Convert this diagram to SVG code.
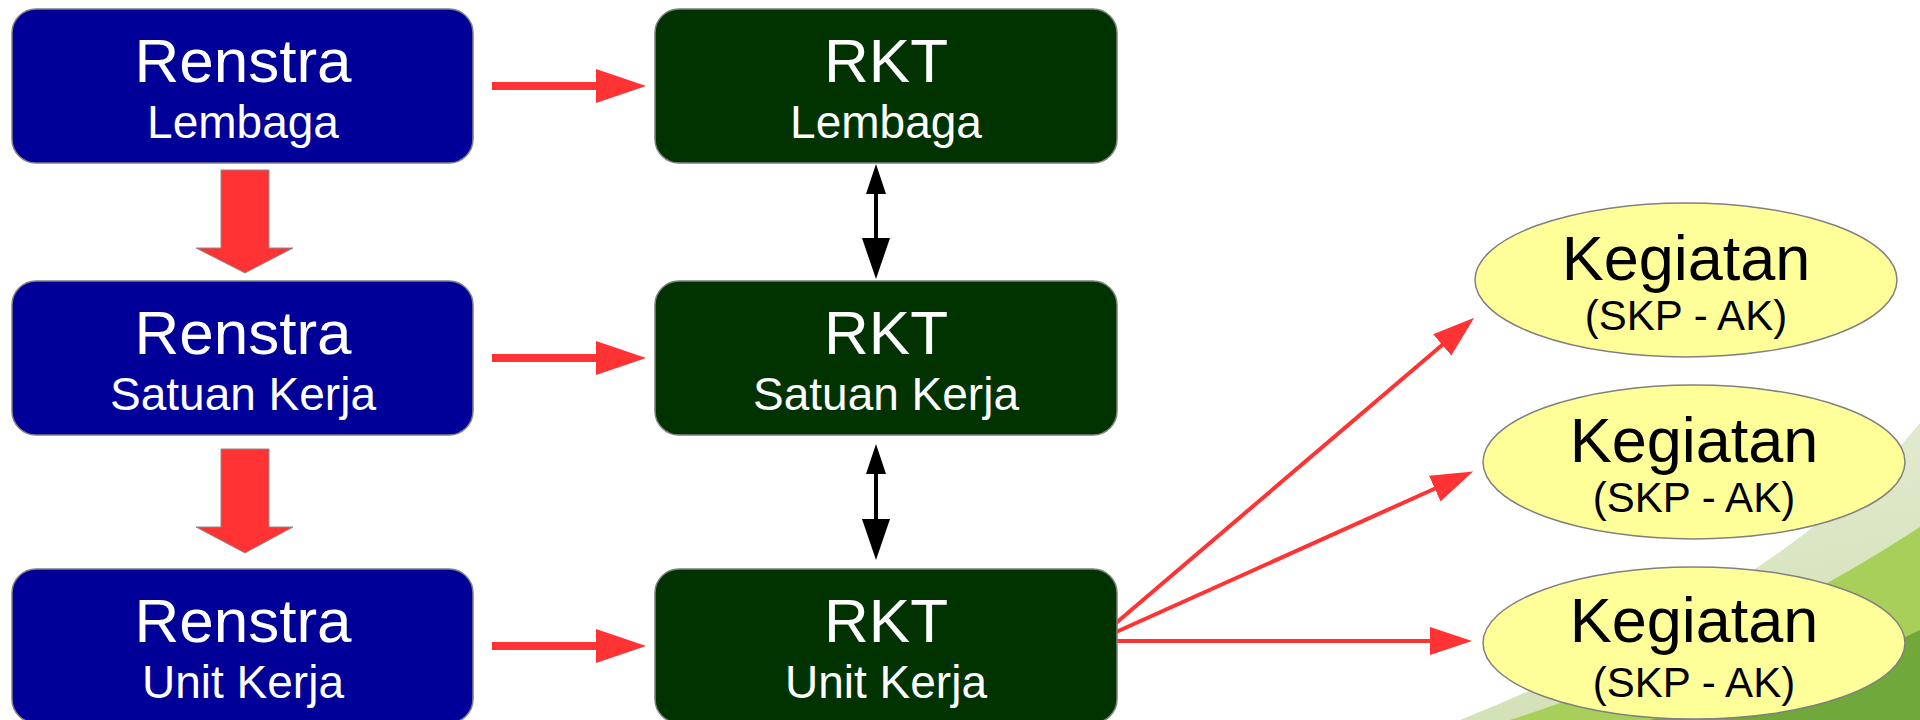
<svg xmlns="http://www.w3.org/2000/svg" width="1920" height="720" viewBox="0 0 1920 720">
<style>
.renstra{fill:#000099;stroke:#808080;stroke-width:1.5}
.rkt{fill:#003300;stroke:#808080;stroke-width:1.5}
.keg{fill:#FFFF99;stroke:#808080;stroke-width:1.5}
.t1{font-family:"Liberation Sans",Arial,sans-serif;font-size:62px;fill:#FFFFFF;text-anchor:middle}
.t2{font-family:"Liberation Sans",Arial,sans-serif;font-size:46px;fill:#FFFFFF;text-anchor:middle}
.k1{font-family:"Liberation Sans",Arial,sans-serif;font-size:63px;fill:#000000;text-anchor:middle}
.k2{font-family:"Liberation Sans",Arial,sans-serif;font-size:42px;fill:#000000;text-anchor:middle}
.block{fill:#FF3333}
.down{fill:#FF3333;stroke:#8c8c8c;stroke-width:1}
.fan{stroke:#FF3333;stroke-width:4;fill:none;marker-end:url(#redHead)}
.dbl{stroke:#000000;stroke-width:4;fill:none;marker-start:url(#blkStart);marker-end:url(#blkEnd)}
</style>
<defs>
<linearGradient id="pale" x1="0" y1="0" x2="0.3" y2="1">
<stop offset="0" stop-color="#E6EDD8"/>
<stop offset="1" stop-color="#D3E1B6"/>
</linearGradient>
<marker id="redHead" markerUnits="userSpaceOnUse" markerWidth="44" markerHeight="30" viewBox="0 0 44 30" refX="1" refY="15" orient="auto">
<path d="M0,1 L42,15 L0,29 Z" fill="#FF3333"/>
</marker>
<marker id="blkEnd" markerUnits="userSpaceOnUse" markerWidth="43" markerHeight="30" viewBox="0 0 43 30" refX="1" refY="15" orient="auto">
<path d="M0,1 L41,15 L0,29 Z" fill="#000000"/>
</marker>
<marker id="blkStart" markerUnits="userSpaceOnUse" markerWidth="32" markerHeight="22" viewBox="0 0 32 22" refX="30" refY="11" orient="auto">
<path d="M31,1 L1,11 L31,21 Z" fill="#000000"/>
</marker>
</defs>
<rect width="1920" height="720" fill="#FFFFFF"/>
<g id="background">
<path d="M1920,423 Q1785,590 1460,720 L1920,720 Z" fill="url(#pale)"/>
<path d="M1920,527 Q1740,645 1510,720 L1920,720 Z" fill="#A8CF5A"/>
<path d="M1920,630 Q1800,690 1650,720 L1920,720 Z" fill="#70A83B"/>
</g>
<g id="connectors">
<path class="block" d="M492,82 L596,82 L596,69 L646,86 L596,103 L596,90 L492,90 Z"/>
<path class="block" d="M492,354 L596,354 L596,341 L646,358 L596,375 L596,362 L492,362 Z"/>
<path class="block" d="M492,642 L596,642 L596,629 L646,646 L596,663 L596,650 L492,650 Z"/>
<path class="down" d="M221,170 L269,170 L269,248 L293,248 L245,273 L196,248 L221,248 Z"/>
<path class="down" d="M221,449 L269,449 L269,527 L293,527 L245,553 L196,527 L221,527 Z"/>
<line class="dbl" x1="876" y1="193" x2="876" y2="239"/>
<line class="dbl" x1="876" y1="473" x2="876" y2="520"/>
<line class="fan" x1="1116" y1="623" x2="1443" y2="344.3"/>
<line class="fan" x1="1116" y1="632" x2="1435.7" y2="488.2"/>
<line class="fan" x1="1116" y1="641" x2="1431" y2="641"/>
</g>
<g id="renstra-lembaga">
<rect class="renstra" x="12" y="9" width="461" height="154" rx="24"/>
<text class="t1" x="243" y="82">Renstra</text>
<text class="t2" x="243" y="138">Lembaga</text>
</g>
<g id="renstra-satuan-kerja">
<rect class="renstra" x="12" y="281" width="461" height="154" rx="24"/>
<text class="t1" x="243" y="354">Renstra</text>
<text class="t2" x="243" y="410">Satuan Kerja</text>
</g>
<g id="renstra-unit-kerja">
<rect class="renstra" x="12" y="569" width="461" height="154" rx="24"/>
<text class="t1" x="243" y="642">Renstra</text>
<text class="t2" x="243" y="698">Unit Kerja</text>
</g>
<g id="rkt-lembaga">
<rect class="rkt" x="655" y="9" width="462" height="154" rx="24"/>
<text class="t1" x="886" y="82">RKT</text>
<text class="t2" x="886" y="138">Lembaga</text>
</g>
<g id="rkt-satuan-kerja">
<rect class="rkt" x="655" y="281" width="462" height="154" rx="24"/>
<text class="t1" x="886" y="354">RKT</text>
<text class="t2" x="886" y="410">Satuan Kerja</text>
</g>
<g id="rkt-unit-kerja">
<rect class="rkt" x="655" y="569" width="462" height="154" rx="24"/>
<text class="t1" x="886" y="642">RKT</text>
<text class="t2" x="886" y="698">Unit Kerja</text>
</g>
<g id="kegiatan-1">
<ellipse class="keg" cx="1686" cy="280" rx="211" ry="77"/>
<text class="k1" x="1686" y="280">Kegiatan</text>
<text class="k2" x="1686" y="330">(SKP - AK)</text>
</g>
<g id="kegiatan-2">
<ellipse class="keg" cx="1694" cy="462" rx="211" ry="77"/>
<text class="k1" x="1694" y="462">Kegiatan</text>
<text class="k2" x="1694" y="512">(SKP - AK)</text>
</g>
<g id="kegiatan-3">
<ellipse class="keg" cx="1694" cy="643" rx="211" ry="76"/>
<text class="k1" x="1694" y="642">Kegiatan</text>
<text class="k2" x="1694" y="697">(SKP - AK)</text>
</g>
</svg>
